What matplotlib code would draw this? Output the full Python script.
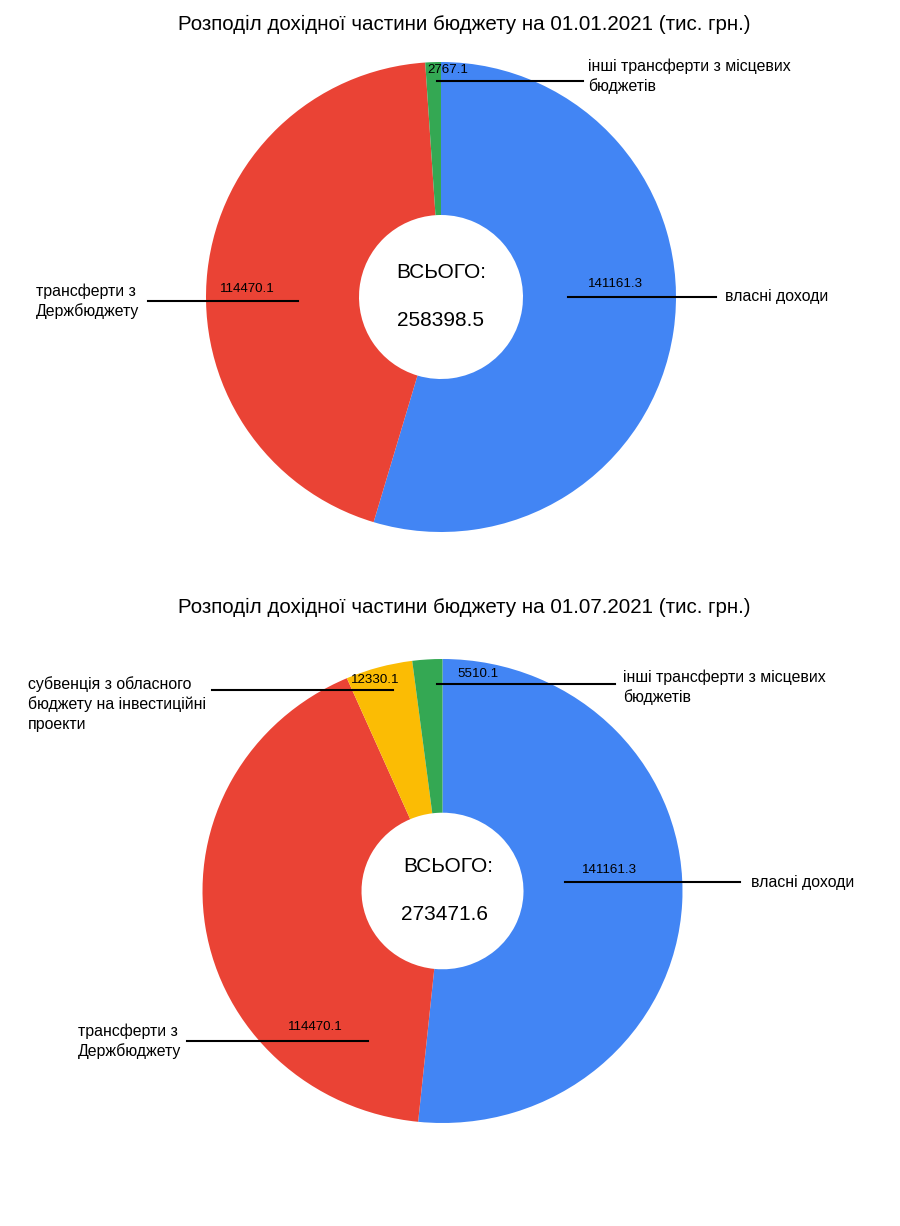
import matplotlib
matplotlib.use("Agg")
import matplotlib.pyplot as plt

plt.rcParams['font.family'] = ['Liberation Sans', 'DejaVu Sans']

# ---- data ----
titles = ["Розподіл дохідної частини бюджету на 01.01.2021 (тис. грн.)",
          "Розподіл дохідної частини бюджету на 01.07.2021 (тис. грн.)"]
labels1 = ["власні доходи", "трансферти з\nДержбюджету", "інші трансферти з місцевих\nбюджетів"]
values1 = [141161.3, 114470.1, 2767.1]
colors1 = ["#4285F4", "#EA4335", "#34A853"]
total1 = "258398.5"

labels2 = ["власні доходи", "трансферти з\nДержбюджету",
           "субвенція з обласного\nбюджету на інвестиційні\nпроекти",
           "інші трансферти з місцевих\nбюджетів"]
values2 = [141161.3, 114470.1, 12330.1, 5510.1]
colors2 = ["#4285F4", "#EA4335", "#FBBC04", "#34A853"]
total2 = "273471.6"

W, H = 900, 1226
fig = plt.figure(figsize=(W / 100, H / 100), dpi=100)


def Y(py):
    return H - py


def donut_axes(cx, cy, rx, ry, hole_frac, values, colors):
    a = fig.add_axes([(cx - rx) / W, (H - cy - ry) / H, 2 * rx / W, 2 * ry / H])
    a.pie(values, colors=colors, startangle=90, counterclock=False, radius=1,
          wedgeprops=dict(width=1 - hole_frac, linewidth=0))
    a.set_xlim(-1, 1)
    a.set_ylim(-1, 1)
    a.set_aspect('auto')
    a.axis('off')
    a.set_zorder(0)
    return a


donut_axes(441, 297, 235, 235, 82 / 235, values1, colors1)
donut_axes(442.5, 891, 240, 232, 81 / 240, values2, colors2)

ax = fig.add_axes([0, 0, 1, 1])
ax.set_xlim(0, W)
ax.set_ylim(0, H)
ax.axis('off')
ax.set_zorder(1)

TFS, LFS, VFS, CFS = 14.8, 11.4, 9.6, 15

ax.text(464, Y(24), titles[0], ha='center', va='center', fontsize=TFS)
ax.text(441, Y(272), "ВСЬОГО:", ha='center', va='center', fontsize=CFS)
ax.text(441, Y(321), total1, ha='center', va='center', fontsize=CFS)

# annotations chart 1: (value text pos), (line x0, x1, y), (label x, label y)
ann1 = [
    ((616, 284), (568, 716, 297), (725, 297)),
    ((247, 289), (148, 298, 301), (36, 301)),
    ((448, 70), (437, 583, 81), (588, 76)),
]
for v, (vp, ln, lp), lab in zip(values1, ann1, labels1):
    ax.text(vp[0], Y(vp[1]), f"{v:.1f}", ha='center', va='center', fontsize=VFS)
    ax.plot([ln[0], ln[1]], [Y(ln[2]), Y(ln[2])], color='black', lw=1.5)
    ax.text(lp[0], Y(lp[1]), lab, ha='left', va='center', fontsize=LFS, linespacing=1.35)

ax.text(464, Y(607), titles[1], ha='center', va='center', fontsize=TFS)
ax.text(448, Y(866), "ВСЬОГО:", ha='center', va='center', fontsize=CFS)
ax.text(445, Y(914), total2, ha='center', va='center', fontsize=CFS)

ann2 = [
    ((610, 870), (565, 740, 882), (751, 882)),
    ((315, 1027), (187, 368, 1041), (78, 1041)),
    ((375, 680), (212, 393, 690), (28, 704)),
    ((478, 674), (437, 615, 684), (623, 687)),
]
for v, (vp, ln, lp), lab in zip(values2, ann2, labels2):
    ax.text(vp[0], Y(vp[1]), f"{v:.1f}", ha='center', va='center', fontsize=VFS)
    ax.plot([ln[0], ln[1]], [Y(ln[2]), Y(ln[2])], color='black', lw=1.5)
    ax.text(lp[0], Y(lp[1]), lab, ha='left', va='center', fontsize=LFS, linespacing=1.35)

fig.savefig("out.png", dpi=100, facecolor='white')
